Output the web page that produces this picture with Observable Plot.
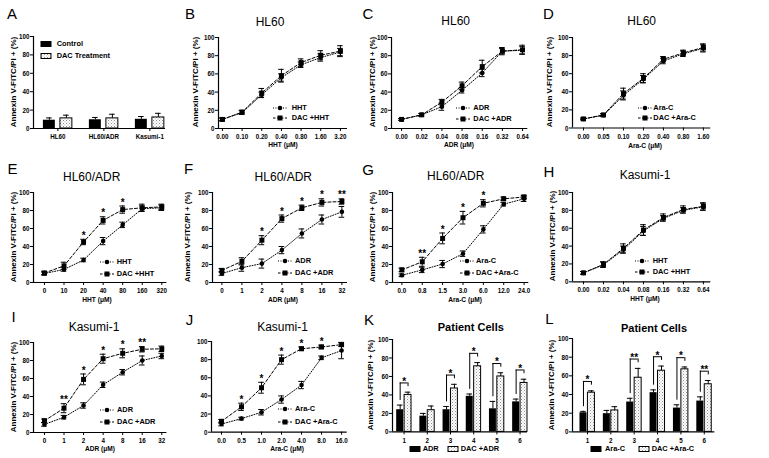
<!DOCTYPE html>
<html><head><meta charset="utf-8">
<script src="https://cdn.jsdelivr.net/npm/d3@7"></script>
<script src="https://cdn.jsdelivr.net/npm/@observablehq/plot@0.6"></script>
<style>
html,body{margin:0;padding:0;background:#fff;}
#fig{position:relative;width:769px;height:458px;overflow:hidden;background:#fff;font-family:"Liberation Sans",Arial,Helvetica,sans-serif;color:#000;}
.t{position:absolute;white-space:nowrap;line-height:1;}
.letter{font-size:15px;transform:translate(-50%,-50%);}
.title{font-size:12px;transform:translate(-50%,-50%);}
.titleb{font-size:11px;font-weight:bold;transform:translate(-50%,-50%);}
.ylab{font-size:8px;font-weight:bold;transform:translate(-50%,-50%) rotate(-90deg);}
.xlab{font-size:7.5px;font-weight:bold;transform:translate(-50%,-50%) scaleX(0.88);}
.leg{font-size:7.4px;font-weight:bold;transform:translateY(-50%);}
</style></head><body>
<svg width="0" height="0" style="position:absolute"><defs>
<pattern id="dots" width="3" height="3" patternUnits="userSpaceOnUse"><rect width="3" height="3" fill="#fff"/><rect x="0" y="0" width="1" height="1" fill="#8f8f8f"/><rect x="1.5" y="1.5" width="1" height="1" fill="#adadad"/></pattern>
</defs></svg>
<div id="fig"></div>
<script>
// ---------------- DATA ----------------
// A: baseline apoptosis
const A_cells = ["HL60", "HL60/ADR", "Kasumi-1"];
const A_control = [9, 9.5, 10];
const A_control_err = [2.5, 2.5, 3];
const A_dac = [11, 11, 12];
const A_dac_err = [3.5, 4.5, 4.5];

// B: HL60, HHT
const B_dose = ["0.00", "0.10", "0.20", "0.40", "0.80", "1.60", "3.20"];
const B_hht = [10, 17.5, 37, 56, 70, 78, 84];
const B_hht_err = [1.5, 2, 3, 4, 3, 4, 4];
const B_dac = [10, 18, 39, 58, 72.5, 80.5, 85];
const B_dac_err = [1.5, 2, 5, 7, 4, 5, 6];

// C: HL60, ADR
const C_dose = ["0.00", "0.02", "0.04", "0.08", "0.16", "0.32", "0.64"];
const C_adr = [10, 15, 24, 42, 61, 85, 86];
const C_adr_err = [1, 1.5, 4, 3, 4, 4, 4];
const C_dac = [10, 15, 29, 47, 68, 85, 86.5];
const C_dac_err = [1, 1.5, 3, 4, 7, 3, 5];

// D: HL60, Ara-C
const D_dose = ["0.00", "0.05", "0.10", "0.20", "0.40", "0.80", "1.60"];
const D_arac = [10, 14, 36, 54, 74, 82, 88];
const D_arac_err = [1, 1.5, 5, 4, 3, 3, 4];
const D_dac = [10, 14.5, 38, 55, 76, 83, 89];
const D_dac_err = [1, 1.5, 6, 5, 3, 3, 4];

// E: HL60/ADR, HHT
const E_dose = ["0", "10", "20", "40", "80", "160", "320"];
const E_hht = [10, 14.5, 25, 46, 64, 82, 83];
const E_hht_err = [1.5, 2, 2, 4, 3, 3, 3];
const E_dac = [10.5, 18.5, 45, 69, 81, 83, 84];
const E_dac_err = [2, 4, 3, 4, 4, 4, 3];
const E_sig = ["", "", "*", "*", "*", "", ""];

// F: HL60/ADR, ADR
const F_dose = ["0", "1", "2", "4", "8", "16", "32"];
const F_adr = [10, 16.5, 21, 36, 54.5, 70, 78.5];
const F_adr_err = [2, 4, 5, 4, 5, 5, 6];
const F_dac = [13.5, 23.5, 47, 71, 83, 89, 90];
const F_dac_err = [2, 4, 5, 4, 3, 4, 3];
const F_sig = ["", "", "*", "*", "*", "*", "**"];

// G: HL60/ADR, Ara-C
const G_dose = ["0.0", "0.8", "1.5", "3.0", "6.0", "12.0", "24.0"];
const G_arac = [8, 14, 20.5, 32, 59, 87, 93];
const G_arac_err = [1.5, 3, 4, 3, 4, 2, 3];
const G_dac = [14, 23, 49, 72, 88, 93, 95];
const G_dac_err = [2, 5, 6, 7, 4, 2, 2];
const G_sig = ["", "**", "*", "*", "*", "", ""];

// H: Kasumi-1, HHT
const H_dose = ["0.00", "0.02", "0.04", "0.08", "0.16", "0.32", "0.64"];
const H_hht = [10, 19, 36, 57, 71, 80, 84];
const H_hht_err = [1.5, 3, 4, 5, 3, 3, 4];
const H_dac = [10, 19.5, 37.5, 58, 72, 81, 84.5];
const H_dac_err = [1.5, 3, 5, 6, 4, 4, 4];

// I: Kasumi-1, ADR
const I_dose = ["0", "1", "2", "4", "8", "16", "32"];
const I_adr = [9, 17, 30, 53, 67, 80, 85];
const I_adr_err = [2, 2, 3, 3, 3, 5, 3];
const I_dac = [13, 27, 59, 82, 88, 92.5, 93];
const I_dac_err = [2, 5, 6, 5, 5, 3, 3];
const I_sig = ["", "**", "*", "*", "*", "**", ""];

// J: Kasumi-1, Ara-C
const J_dose = ["0.0", "0.5", "1.0", "2.0", "4.0", "8.0", "16.0"];
const J_arac = [9, 15, 22, 36, 52, 82, 90];
const J_arac_err = [2, 1.5, 3, 4, 4, 2, 9];
const J_dac = [12, 28, 49, 80, 92, 94, 96.5];
const J_dac_err = [2, 4, 6, 5, 2, 2, 2];
const J_sig = ["", "*", "*", "*", "*", "*", ""];

// K: patient cells, ADR
const K_patients = ["1", "2", "3", "4", "5", "6"];
const K_adr = [24, 17, 24, 38.5, 25, 32.5];
const K_adr_err = [5, 3, 3.5, 2.5, 8, 3];
const K_dac = [40, 23.5, 47, 71, 60, 53];
const K_dac_err = [3, 4.5, 4.5, 4, 4, 4];
const K_sig = ["*", "", "*", "*", "*", "*"];

// L: patient cells, Ara-C
const L_patients = ["1", "2", "3", "4", "5", "6"];
const L_arac = [20.5, 19.5, 32, 42, 25.5, 33];
const L_arac_err = [1.5, 3.5, 4, 3, 3.5, 4.5];
const L_dac = [42, 23, 58, 65.5, 67, 51];
const L_dac_err = [2, 4, 10, 5, 2.5, 4];
const L_sig = ["*", "", "**", "*", "*", "**"];

const Y_TICKS = [0, 20, 40, 60, 80, 100];
const YLABEL = "Annexin V-FITC/PI + (%)";

// ---------------- HELPERS ----------------
const fig = document.getElementById("fig");
const FONT = '"Liberation Sans", Arial, Helvetica, sans-serif';
const SVGNS = "http://www.w3.org/2000/svg";

function addText(txt, x, y, cls) {
  const d = document.createElement("div");
  d.className = "t " + cls;
  d.textContent = txt;
  d.style.left = x + "px";
  d.style.top = y + "px";
  fig.appendChild(d);
  return d;
}

function swatch(cx, cy, kind) {
  const s = document.createElementNS(SVGNS, "svg");
  s.setAttribute("width", 16); s.setAttribute("height", 10);
  s.style.position = "absolute";
  s.style.left = (cx - 8) + "px"; s.style.top = (cy - 5) + "px";
  if (kind === "circle") {
    s.innerHTML = '<line x1="1" y1="5" x2="15" y2="5" stroke="#000" stroke-width="1" stroke-dasharray="1,1.5"/><circle cx="8" cy="5" r="2.3" fill="#000"/>';
  } else if (kind === "square") {
    s.innerHTML = '<line x1="1" y1="5" x2="15" y2="5" stroke="#000" stroke-width="1" stroke-dasharray="2.5,1.5"/><rect x="5.5" y="2.5" width="5" height="5" fill="#000"/>';
  } else if (kind === "solid") {
    s.innerHTML = '<rect x="2.5" y="2" width="11" height="6" fill="#000"/>';
  } else {
    s.innerHTML = '<rect x="3" y="2.5" width="10" height="5" fill="url(#dots)" stroke="#000" stroke-width="1"/>';
  }
  fig.appendChild(s);
}

function lineLegend(cx, y1, y2, tx, l1, l2) {
  swatch(cx, y1, "circle"); addText(l1, tx, y1, "leg");
  swatch(cx, y2, "square"); addText(l2, tx, y2, "leg");
}

function compressTicks(p, k) {
  p.querySelectorAll('g[aria-label$="tick label"] text').forEach(t => {
    const tr = t.getAttribute("transform");
    if (tr) t.setAttribute("transform", tr + " scale(" + k + ",1)");
  });
}

function mkPlot(fr, dom, labels, marks) {
  const ml = 30, mr = 10, mt = 12, mb = 20;
  const w = fr.x1 - fr.x0 + ml + mr, h = fr.yBot - fr.yTop + mt + mb;
  const p = Plot.plot({
    width: w, height: h,
    marginLeft: ml, marginRight: mr, marginTop: mt, marginBottom: mb,
    x: {domain: dom, label: null},
    y: {domain: [0, 100], label: null},
    style: {fontFamily: FONT, fontSize: "8px", fontWeight: "bold", background: "transparent", overflow: "visible", color: "#000"},
    marks: [
      ...marks,
      Plot.ruleY([0], {stroke: "#000", strokeWidth: 1.2}),
      Plot.ruleX([dom[0]], {stroke: "#000", strokeWidth: 1.2}),
      Plot.axisY({ticks: Y_TICKS, tickSize: 3, tickPadding: 1, label: null}),
      Plot.axisX({ticks: labels.map((l, i) => i), tickFormat: i => labels[i], tickSize: 3, tickPadding: 2, label: null})
    ]
  });
  p.style.position = "absolute";
  p.style.left = (fr.x0 - ml) + "px";
  p.style.top = (fr.yTop - mt) + "px";
  p.style.maxWidth = "none";
  compressTicks(p, 0.78);
  fig.appendChild(p);
  return p;
}

function linePanel(fr, dom, labels, a, ae, b, be, sig) {
  const step = (fr.x1 - fr.x0) / (dom[1] - dom[0]);
  const cap = 2.8 / step;
  const A = labels.map((l, i) => ({i, v: a[i], e: ae[i]}));
  const B = labels.map((l, i) => ({i, v: b[i], e: be[i]}));
  const all = A.concat(B);
  const S = sig ? labels.map((l, i) => ({i, s: sig[i], y: Math.max(a[i] + ae[i], b[i] + be[i]) + 4})).filter(d => d.s) : [];
  const marks = [
    Plot.line(A, {x: "i", y: "v", stroke: "#000", strokeWidth: 1, strokeDasharray: "1,1.6"}),
    Plot.line(B, {x: "i", y: "v", stroke: "#000", strokeWidth: 1, strokeDasharray: "3,2"}),
    Plot.ruleX(all, {x: "i", y1: d => d.v - d.e, y2: d => d.v + d.e, stroke: "#000", strokeWidth: 1}),
    Plot.ruleY(all, {y: d => d.v + d.e, x1: d => d.i - cap, x2: d => d.i + cap, stroke: "#000", strokeWidth: 1}),
    Plot.ruleY(all, {y: d => d.v - d.e, x1: d => d.i - cap, x2: d => d.i + cap, stroke: "#000", strokeWidth: 1}),
    Plot.dot(A, {x: "i", y: "v", r: 2.3, fill: "#000", symbol: "circle"}),
    Plot.dot(B, {x: "i", y: "v", r: 2.8, fill: "#000", symbol: "square"}),
    Plot.text(S, {x: "i", y: "y", text: "s", fontSize: 10, fontWeight: "bold"})
  ];
  return mkPlot(fr, dom, labels, marks);
}

function barPanel(fr, dom, labels, a, ae, b, be, off, hw, sig) {
  const step = (fr.x1 - fr.x0) / (dom[1] - dom[0]);
  const cap = 2.8 / step;
  const A = labels.map((l, i) => ({i, x: i - off, v: a[i], e: ae[i]}));
  const B = labels.map((l, i) => ({i, x: i + off, v: b[i], e: be[i]}));
  const all = A.concat(B);
  const marks = [
    Plot.rect(A, {x1: d => d.x - hw, x2: d => d.x + hw, y1: 0, y2: "v", fill: "#000"}),
    Plot.rect(B, {x1: d => d.x - hw, x2: d => d.x + hw, y1: 0, y2: "v", fill: "url(#dots)", stroke: "#000", strokeWidth: 1}),
    Plot.ruleX(all, {x: "x", y1: "v", y2: d => d.v + d.e, stroke: "#000", strokeWidth: 1}),
    Plot.ruleY(all, {y: d => d.v + d.e, x1: d => d.x - cap, x2: d => d.x + cap, stroke: "#000", strokeWidth: 1})
  ];
  if (sig) {
    const br = labels.map((l, i) => {
      const top = b[i] + be[i] + 10;
      return {i, s: sig[i], xl: i - off, xr: i + off, top, left: a[i] + ae[i] + 5, right: top - 4};
    }).filter(d => d.s);
    marks.push(
      Plot.ruleX(br, {x: "xl", y1: "left", y2: "top", stroke: "#000", strokeWidth: 1}),
      Plot.ruleX(br, {x: "xr", y1: "right", y2: "top", stroke: "#000", strokeWidth: 1}),
      Plot.ruleY(br, {y: "top", x1: "xl", x2: "xr", stroke: "#000", strokeWidth: 1}),
      Plot.text(br, {x: "i", y: d => d.top + 1.5, text: "s", fontSize: 10, fontWeight: "bold"})
    );
  }
  return mkPlot(fr, dom, labels, marks);
}

// ---------------- PANELS ----------------
// Row 1
barPanel({x0: 33, x1: 165, yTop: 35.7, yBot: 127.7}, [-0.53, 2.34], A_cells,
  A_control, A_control_err, A_dac, A_dac_err, 0.185, 0.13, null);
swatch(46.2, 43.7, "solid"); addText("Control", 56.7, 43.5, "leg");
swatch(46.2, 55.5, "open"); addText("DAC Treatment", 56.7, 55.7, "leg");

linePanel({x0: 218, x1: 347, yTop: 36.7, yBot: 127.7}, [-0.2, 6.36], B_dose, B_hht, B_hht_err, B_dac, B_dac_err, null);
lineLegend(280, 107.7, 118.3, 291.7, "HHT", "DAC +HHT");

linePanel({x0: 390.7, x1: 527, yTop: 36.7, yBot: 127.7}, [-0.5, 6.26], C_dose, C_adr, C_adr_err, C_dac, C_dac_err, null);
lineLegend(463.3, 108.3, 119.3, 473.3, "ADR", "DAC +ADR");

linePanel({x0: 571.7, x1: 710, yTop: 37.2, yBot: 127.7}, [-0.55, 6.37], D_dose, D_arac, D_arac_err, D_dac, D_dac_err, null);
lineLegend(645, 107.7, 118, 653.3, "Ara-C", "DAC +Ara-C");

// Row 2
linePanel({x0: 33.3, x1: 166.7, yTop: 192.3, yBot: 282.3}, [-0.56, 6.26], E_dose, E_hht, E_hht_err, E_dac, E_dac_err, E_sig);
lineLegend(107, 262.3, 274, 116.7, "HHT", "DAC +HHT");

linePanel({x0: 211.7, x1: 346.7, yTop: 192.3, yBot: 282.3}, [-0.47, 6.28], F_dose, F_adr, F_adr_err, F_dac, F_dac_err, F_sig);
lineLegend(285, 261, 272.7, 295, "ADR", "DAC +ADR");

linePanel({x0: 391.7, x1: 528, yTop: 191.7, yBot: 281.7}, [-0.46, 6.23], G_dose, G_arac, G_arac_err, G_dac, G_dac_err, G_sig);
lineLegend(467, 261, 272.7, 476, "Ara-C", "DAC +Ara-C");

linePanel({x0: 571.7, x1: 710, yTop: 191.7, yBot: 281}, [-0.55, 6.37], H_dose, H_hht, H_hht_err, H_dac, H_dac_err, null);
lineLegend(642, 261, 272.3, 652.7, "HHT", "DAC +HHT");

// Row 3
linePanel({x0: 33.3, x1: 166.7, yTop: 341.7, yBot: 431.7}, [-0.56, 6.26], I_dose, I_adr, I_adr_err, I_dac, I_dac_err, I_sig);
lineLegend(107, 410, 422.3, 117, "ADR", "DAC +ADR");

linePanel({x0: 211, x1: 346.7, yTop: 341, yBot: 431.7}, [-0.5, 6.28], J_dose, J_arac, J_arac_err, J_dac, J_dac_err, J_sig);
lineLegend(285, 409, 422.3, 295, "Ara-C", "DAC +Ara-C");

barPanel({x0: 391.7, x1: 526.7, yTop: 339.3, yBot: 431.7}, [-0.5, 5.32], K_patients,
  K_adr, K_adr_err, K_dac, K_dac_err, 0.17, 0.15, K_sig);
swatch(414.5, 448.5, "solid"); addText("ADR", 422.7, 448.5, "leg");
swatch(452.5, 448.5, "open"); addText("DAC +ADR", 460.7, 448.5, "leg");

barPanel({x0: 571.7, x1: 714, yTop: 338.3, yBot: 431.7}, [-0.64, 5.45], L_patients,
  L_arac, L_arac_err, L_dac, L_dac_err, 0.17, 0.15, L_sig);
swatch(596.2, 448.5, "solid"); addText("Ara-C", 605, 448.5, "leg");
swatch(643.5, 448.5, "open"); addText("DAC +Ara-C", 651.7, 448.5, "leg");

// ---------------- TEXT ----------------
[["A",12,13],["B",190,13],["C",368,13],["D",548.5,13],
 ["E",12.5,168],["F",188.5,168],["G",368,169],["H",549,170.5],
 ["I",13.5,316],["J",189.5,319],["K",369,319],["L",549.5,318]].forEach(d => addText(d[0], d[1], d[2], "letter"));

[["HL60",270,21.7],["HL60",455.7,21],["HL60",641.7,20.7],
 ["HL60/ADR",91.7,176.7],["HL60/ADR",283.3,177],["HL60/ADR",455.7,176],["Kasumi-1",645,175],
 ["Kasumi-1",94,326.7],["Kasumi-1",282.5,326.7]].forEach(d => addText(d[0], d[1], d[2], "title"));
addText("Patient Cells", 470.8, 326.7, "titleb");
addText("Patient Cells", 654, 328, "titleb");

[[14,82],[196,82],[373,82],[550,82],[14,237],[188,237],[373,237],[553,236],[14,387],[371,385],[552,385]]
  .forEach(d => addText(YLABEL, d[0], d[1], "ylab"));

[["HHT (μM)",283,145],["ADR (μM)",459,145],["Ara-C (μM)",645,146],
 ["HHT (μM)",97,300],["ADR (μM)",283,300],["Ara-C (μM)",465,300],["HHT (μM)",645,298.5],
 ["ADR (μM)",100,448.5],["Ara-C (μM)",287,449]].forEach(d => addText(d[0], d[1], d[2], "xlab"));
</script>
</body></html>
